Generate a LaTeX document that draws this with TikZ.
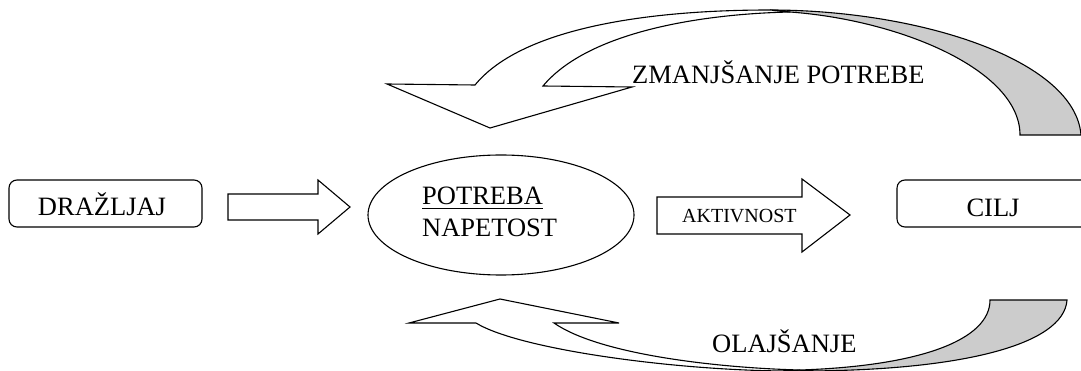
\documentclass[tikz,border=0pt]{standalone}
\usepackage{fontspec}
\setmainfont{Liberation Serif}
\usetikzlibrary{shapes.geometric}
\definecolor{backgray}{RGB}{204,204,204}
\newcommand\ulword[1]{\setbox0\hbox{#1}\rlap{\rule[-4.2pt]{\wd0}{1.6pt}}\box0}
\begin{document}
\begin{tikzpicture}[x=1pt,y=-1pt,
  outline/.style={draw=black, line width=1.1pt, line join=miter},
  rbox/.style={outline, rounded corners=8pt, inner sep=0pt},
  lbl/.style={inner sep=0pt, font=\fontsize{26.5}{32}\selectfont},
  smalllbl/.style={inner sep=0pt, font=\fontsize{20}{24}\selectfont},
  blockarrow/.style={outline, fill=white},
  backface/.style={outline, fill=backgray}]
\useasboundingbox (0,0) rectangle (1081,371);

% boxes and the ellipse
\node[rbox, minimum width=193pt, minimum height=47pt] (drazljaj) at (105.5,203.5) {};
\node[lbl, anchor=base] (tdrazljaj) at (102,216) {DRAŽLJAJ};
\node[rbox, minimum width=193pt, minimum height=47pt] (cilj) at (993.5,203.5) {};
\node[lbl, anchor=base] (tcilj) at (993,217) {CILJ};
\node[outline, ellipse, inner sep=0pt, minimum width=266pt, minimum height=120pt] (potreba) at (501,215) {};
\node[lbl, anchor=base west] (tpotreba) at (422,205) {\ulword{POTREBA}};
\node[lbl, anchor=base west] (tnapetost) at (422,237) {NAPETOST};

% straight block arrows
\draw[blockarrow] (228,194) -- (318,194) -- (318,180) -- (350,207)
  -- (318,234) -- (318,220) -- (228,220) -- cycle;
\draw[blockarrow] (657,197) -- (802,197) -- (802,179) -- (850,215)
  -- (802,252) -- (802,234) -- (657,234) -- cycle;
\node[smalllbl, anchor=base west] (taktivnost) at (682,223) {AKTIVNOST};

% upper curved arrow: back face, then front face with head
\draw[backface] (770,10) .. controls (920,10) and (1075,60) .. (1081,135)
  -- (1020,135) .. controls (1020,70) and (900,20) .. (790,12) -- cycle;
\draw[blockarrow] (387,84) -- (475,85) .. controls (520,30) and (640,10) .. (770,10)
  -- (790,12) .. controls (700,14) and (588,32) .. (543,86)
  -- (632,87) -- (490,128) -- cycle;
\node[lbl, anchor=base west] (tzmanjsanje) at (632,84) {ZMANJŠANJE POTREBE};

% lower curved arrow: back face, then front face with head
\draw[backface] (790,371) .. controls (960,372) and (1064,345) .. (1067,300)
  -- (990,300) .. controls (990,340) and (920,366) .. (800,370) -- cycle;
\draw[blockarrow] (409,323) -- (476,323) .. controls (520,350) and (680,371) .. (790,371)
  -- (800,370) .. controls (720,368) and (600,355) .. (554,323)
  -- (619,323) -- (500,299) -- cycle;
\node[lbl, anchor=base west] (tolajsanje) at (712,352) {OLAJŠANJE};
\end{tikzpicture}
\end{document}
